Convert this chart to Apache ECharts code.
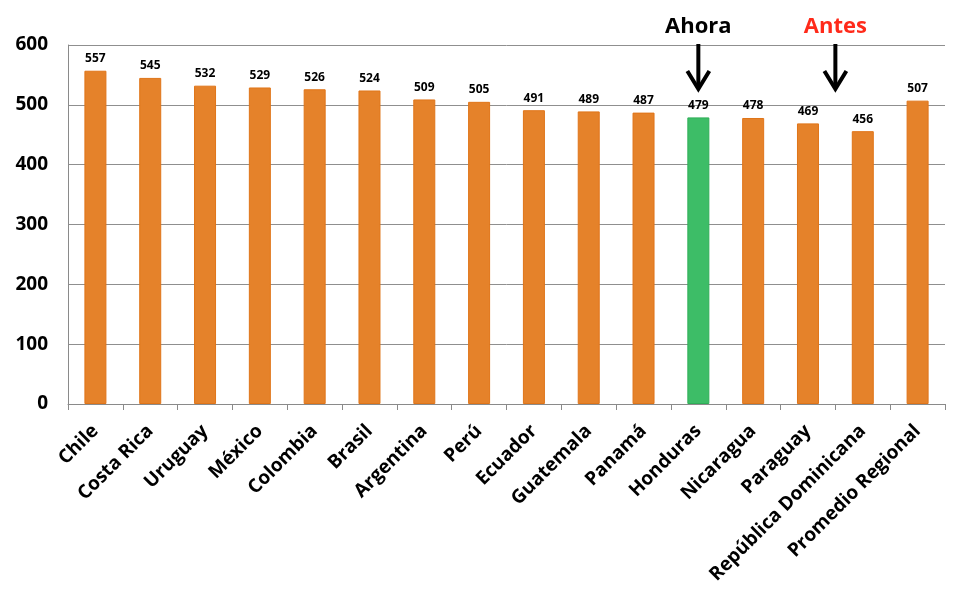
<!DOCTYPE html>
<html><head><meta charset="utf-8">
<script src="https://cdn.jsdelivr.net/npm/echarts@6/dist/echarts.min.js"></script>
<style>html,body{margin:0;padding:0;background:#fff}#c{width:960px;height:604px}</style>
</head><body><div id="c"></div>
<script>
const categories = ["Chile","Costa Rica","Uruguay","México","Colombia","Brasil","Argentina","Perú","Ecuador","Guatemala","Panamá","Honduras","Nicaragua","Paraguay","República Dominicana","Promedio Regional"];
const values = [557,545,532,529,526,524,509,505,491,489,487,479,478,469,456,507];
const highlight = "Honduras";
const yTicks = [0,100,200,300,400,500,600];

const FONT = "'Open Sans', Lato, sans-serif";
const chart = echarts.init(document.getElementById('c'));
chart.setOption({
  animation:false,
  grid:{left:68,right:15,top:45,bottom:200,containLabel:false},
  xAxis:{type:'category',data:categories,
    axisLine:{lineStyle:{color:'#8a8a8a',width:1}},
    axisTick:{show:true,length:6,lineStyle:{color:'#8a8a8a'}},
    axisLabel:{rotate:45,interval:0,margin:24,color:'#000',fontFamily:FONT,fontWeight:'bold',fontSize:19}
  },
  yAxis:{type:'value',min:0,max:600,interval:100,
    axisLine:{show:true,lineStyle:{color:'#8a8a8a'}},
    axisTick:{show:false},
    splitLine:{lineStyle:{color:'#8f8f8f',width:1}},
    axisLabel:{color:'#000',fontFamily:FONT,fontWeight:'bold',fontSize:19,margin:20}
  },
  series:[{type:'bar',barWidth:22,
    data:values.map((v,i)=>({value:v,itemStyle:{color:categories[i]===highlight?'#3dbd67':'#e5822a',borderColor:categories[i]===highlight?'#2fae58':'#e07519',borderWidth:1}})),
    label:{show:true,position:'top',distance:6,color:'#000',fontFamily:FONT,fontWeight:'bold',fontSize:12}
  }]
});

function arrow(x,text,color){
  return [
    {type:'text',x:x,y:27,style:{text:text,fill:color,font:"bold 22px "+FONT,align:'center',verticalAlign:'middle',shadowColor:'rgba(0,0,0,0.25)',shadowBlur:2,shadowOffsetX:1,shadowOffsetY:1}},
    {type:'line',shape:{x1:x,y1:44,x2:x,y2:88},style:{stroke:'#000',lineWidth:4}},
    {type:'polyline',shape:{points:[[x-11,71],[x,89],[x+11,71]]},style:{stroke:'#000',lineWidth:4,fill:null}}
  ];
}
const xA = chart.convertToPixel({xAxisIndex:0}, categories.indexOf("Honduras"));
const xB = (chart.convertToPixel({xAxisIndex:0}, 13)+chart.convertToPixel({xAxisIndex:0}, 14))/2;
chart.setOption({graphic:[...arrow(xA,'Ahora','#000'),...arrow(xB,'Antes','#ff2a1a')]});
</script></body></html>
